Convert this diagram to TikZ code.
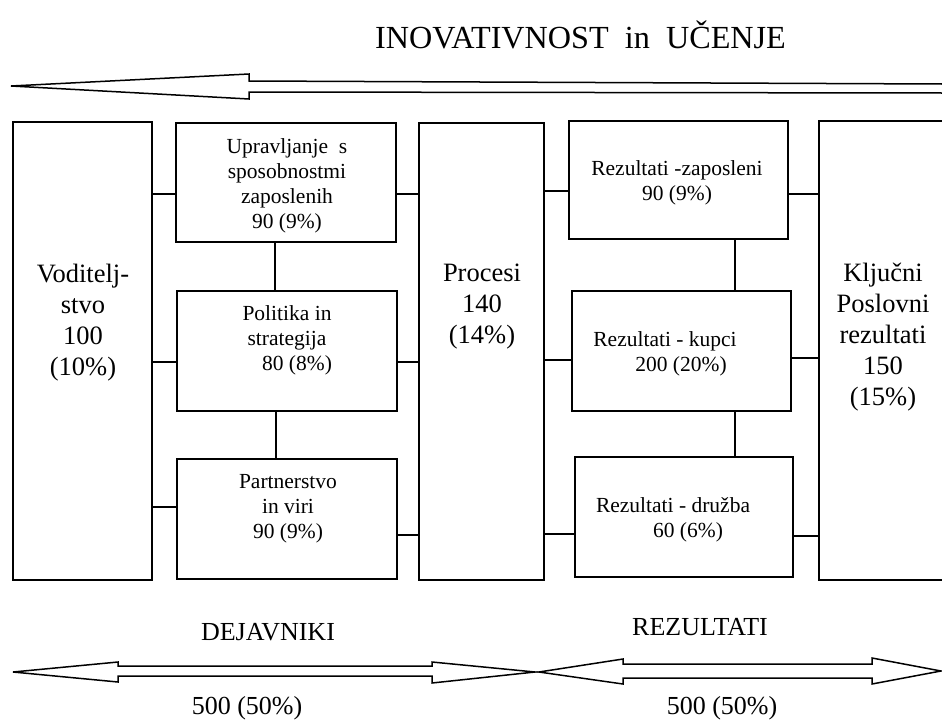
\documentclass[tikz,border=0pt]{standalone}
\usepackage{fontspec}
\setmainfont{Liberation Serif}

% horizontal link: from a shifted anchor of one box straight across to another box
\newcommand\joinh[3]{\draw[link] ([yshift=#2]#1) coordinate (tmpj) -- (tmpj -| #3);}
% vertical link: from a shifted anchor of one box straight down to another box
\newcommand\joinv[3]{\draw[link] ([xshift=#2]#1) coordinate (tmpj) -- (tmpj |- #3);}

\begin{document}
\begin{tikzpicture}[x=1pt,y=-1pt,
  box/.style={draw, line width=1.8pt, inner sep=0pt},
  link/.style={line width=1.4pt},
  bigtxt/.style={font=\fontsize{26.5}{31}\selectfont, align=center, inner sep=0pt},
  smalltxt/.style={font=\fontsize{21.5}{25}\selectfont, align=center, inner sep=0pt},
  captxt/.style={font=\fontsize{26}{30}\selectfont, inner sep=0pt},
  outline/.style={line width=1.5pt}
]
\useasboundingbox (0,0) rectangle (942,720);
\fill[white] (0,0) rectangle (942,720);
\clip (0,0) rectangle (942,720);

% title and the wide arrow beneath it
\node[captxt, font=\fontsize{32.2}{35}\selectfont] (title) at (580.5,35) {INOVATIVNOST\ \ in\ \ UČENJE};
\draw[outline] (942,84) -- (249,81) -- (249,74) -- (11,86) -- (249,99) -- (249,92) -- (942,93);

% boxes
\node[box, minimum width=139pt, minimum height=458pt] (vod) at (82.5,351) {};
\node[box, minimum width=220pt, minimum height=119pt] (upr) at (286,182.5) {};
\node[box, minimum width=220pt, minimum height=120pt] (pol) at (287,351) {};
\node[box, minimum width=220pt, minimum height=120pt] (par) at (287,519) {};
\node[box, minimum width=125pt, minimum height=457pt] (pro) at (481.5,351.5) {};
\node[box, minimum width=219pt, minimum height=118pt] (rz) at (678.5,180) {};
\node[box, minimum width=219pt, minimum height=120pt] (rk) at (681.5,351) {};
\node[box, minimum width=218pt, minimum height=120pt] (rd) at (684,517) {};
\node[box, minimum width=141pt, minimum height=459pt] (klj) at (889.5,350.5) {};

% box texts
\node[bigtxt] (vodtxt) at (83,322.5) {Voditelj-\\stvo\\100\\(10\%)};
\node[smalltxt] (uprtxt) at (287,186) {Upravljanje\ \ s\\sposobnostmi\\zaposlenih\\90 (9\%)};
\node[smalltxt] (poltxt) at (287,340) {Politika in\\strategija\\\hspace*{20pt}80 (8\%)};
\node[smalltxt] (partxt) at (288,509) {Partnerstvo\\in viri\\90 (9\%)};
\node[bigtxt] (protxt) at (482,307) {Procesi\\140\\(14\%)};
\node[smalltxt] (rztxt) at (677,182.5) {Rezultati -zaposleni\\90 (9\%)};
\node[smalltxt] (rktxt) at (665,353.5) {Rezultati - kupci\\\hspace*{32pt}200 (20\%)};
\node[smalltxt] (rdtxt) at (673,520) {Rezultati - družba\\\hspace*{30pt}60 (6\%)};
\node[bigtxt] (kljtxt) at (883,337) {Ključni\\Poslovni\\rezultati\\150\\(15\%)};

% links between the columns
\joinh{upr.west}{-11.5pt}{vod.east}
\joinh{upr.east}{-11.5pt}{pro.west}
\joinh{pol.west}{-11pt}{vod.east}
\joinh{pol.east}{-11pt}{pro.west}
\joinh{par.west}{12pt}{vod.east}
\joinh{par.east}{-16pt}{pro.west}
\joinh{rz.west}{-11pt}{pro.east}
\joinh{rz.east}{-14pt}{klj.west}
\joinh{rk.west}{-9pt}{pro.east}
\joinh{rk.east}{-7pt}{klj.west}
\joinh{rd.west}{-17pt}{pro.east}
\joinh{rd.east}{-19pt}{klj.west}

% links inside the columns
\joinv{upr.south}{-11pt}{pol.north}
\joinv{pol.south}{-11pt}{par.north}
\joinv{rz.south}{56.5pt}{rk.north}
\joinv{rk.south}{53.5pt}{rd.north}

% bottom captions and double arrows
\node[captxt] (dej) at (268,632) {DEJAVNIKI};
\node[captxt] (rez) at (700,627) {REZULTATI};
\node[captxt] (dejval) at (247,708) {500 (50\%)};
\node[captxt] (rezval) at (722,708) {500 (50\%)};
\draw[outline] (118,666) -- (432,666) -- (432,662) -- (535,672) -- (432,683) -- (432,676)
  -- (118,676) -- (118,682) -- (13,672) -- (118,662) -- cycle;
\draw[outline] (623,664) -- (872,664) -- (872,658) -- (941,671) -- (872,684) -- (872,678)
  -- (623,678) -- (623,684) -- (539,672) -- (623,659) -- cycle;
\end{tikzpicture}
\end{document}
